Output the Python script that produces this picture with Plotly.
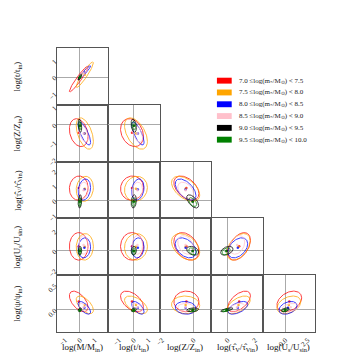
import numpy as np
import plotly.graph_objects as go

# parameters: M, t, Z, tau_V, U_s, psi
axis_titles = ["log(M/M<sub>in</sub>)", "log(t/t<sub>in</sub>)", "log(Z/Z<sub>in</sub>)",
               "log(τ̂<sub>V</sub>/τ̂<sub>Vin</sub>)", "log(U<sub>s</sub>/U<sub>sin</sub>)",
               "log(ψ/ψ<sub>in</sub>)"]
param_ranges = [[-1.53, 1.93], [-1.72, 1.77], [-2.15, 1.12], [-1.2, 2.6], [-2.5, 3.3], [-0.46, 0.7]]
param_ticks = [[-1, 0, 1], [-1, 0, 1], [-2, -1, 0, 1], [-1, 0, 1, 2], [-2, 0, 2], [0.0, 0.5]]
x_ticks = [[-1, 0, 1], [-1, 0, 1], [-2, 0], [0, 2], [0.0, 2.5]]
x_ticktext = [["−1", "0", "1"], ["−1", "0", "1"], ["−2", "0"], ["0", "2"], ["0.0", "2.5"]]
y_ticktext = [None, ["−1", "0", "1"], ["−2", "−1", "0", "1"], ["−1", "0", "1", "2"],
              ["−2", "0", "2"], ["0.0", "0.5"]]

mass_edges = [7.0, 7.5, 8.0, 8.5, 9.0, 9.5, 10.0]
bin_colors = ["#ff0000", "#ffa500", "#0000ff", "#ffc0cb", "#000000", "#008000"]

# means per bin (M, t, Z, tau_V, U_s, psi)
mean_red = [-0.08, -0.12, -0.45, 0.85, 0.45, 0.17]
mean_orange = [0.33, 0.15, -0.5, 0.8, 0.4, 0.1]
mean_blue = [0.3, 0.28, -0.5, 0.75, 0.3, 0.04]
mean_pink = [0.25, 0.25, -0.5, 0.7, 0.6, 0.05]
mean_black = [0.0, 0.0, -0.05, -0.05, 0.0, 0.0]
mean_green = [0.0, 0.0, -0.05, -0.1, -0.05, -0.01]

# 1-sigma widths per bin
sd_red = [0.63, 0.78, 0.8, 0.82, 1.4, 0.21]
sd_orange = [0.58, 0.78, 0.9, 0.85, 1.35, 0.18]
sd_blue = [0.42, 0.42, 0.66, 0.72, 1.02, 0.13]
sd_pink = [0.3, 0.35, 0.5, 0.55, 0.95, 0.08]
sd_black = [0.12, 0.18, 0.38, 0.45, 0.45, 0.04]
sd_green = [0.08, 0.12, 0.25, 0.3, 0.35, 0.03]

# correlations, lower triangle in row order: (t,M),(Z,M),(Z,t),(tau,M),(tau,t),(tau,Z),(U,M)...(psi,U)
corr_red = [0.95, -0.25, -0.25, 0.05, 0.05, -0.45, 0.0, 0.0, -0.35, 0.45, -0.55, -0.5, 0.0, 0.55, 0.35]
corr_orange = [0.93, -0.5, -0.5, 0.1, 0.1, -0.5, 0.05, 0.05, -0.4, 0.45, -0.6, -0.55, -0.05, 0.55, 0.35]
corr_blue = [0.95, -0.75, -0.75, 0.2, 0.2, -0.55, 0.1, 0.1, -0.4, 0.4, -0.65, -0.6, -0.1, 0.55, 0.35]
corr_pink = [0.9, -0.5, -0.5, 0.1, 0.1, -0.4, 0.0, 0.0, -0.3, 0.3, -0.5, -0.5, 0.0, 0.4, 0.3]
corr_black = [0.8, -0.3, -0.3, 0.2, 0.2, -0.6, 0.1, 0.1, -0.3, 0.4, 0.3, 0.3, 0.2, 0.7, 0.4]
corr_green = [0.8, -0.2, -0.2, 0.2, 0.2, -0.5, 0.1, 0.1, -0.3, 0.4, 0.3, 0.3, 0.2, 0.6, 0.4]

means = [mean_red, mean_orange, mean_blue, mean_pink, mean_black, mean_green]
sds = [sd_red, sd_orange, sd_blue, sd_pink, sd_black, sd_green]
corrs = [corr_red, corr_orange, corr_blue, corr_pink, corr_black, corr_green]

W, H = 349, 362
col_px = [(53, 105), (105, 157), (157, 209), (209, 262), (262, 314)]
row_px = [(48, 106), (106, 164), (164, 221), (221, 279), (279, 337)]
FONT = "Liberation Serif"

fig = go.Figure()
phi = np.linspace(0, 2 * np.pi, 120)
layout = {}
k = 0
for r in range(1, 6):
    for c in range(r):
        k += 1
        xa, ya = f"x{k}", f"y{k}"
        for b in range(6):
            mx, my = means[b][c], means[b][r]
            sx, sy = sds[b][c], sds[b][r]
            rho = corrs[b][k - 1]
            ex = mx + sx * np.cos(phi)
            ey = my + sy * (rho * np.cos(phi) + np.sqrt(1 - rho ** 2) * np.sin(phi))
            fig.add_trace(go.Scatter(x=ex, y=ey, mode="lines", xaxis=xa, yaxis=ya,
                                     line=dict(color=bin_colors[b], width=1), opacity=0.75,
                                     showlegend=False, hoverinfo="skip"))
            fig.add_trace(go.Scatter(x=[mx], y=[my], mode="markers", xaxis=xa, yaxis=ya,
                                     marker=dict(color=bin_colors[b], size=2.5), opacity=0.8,
                                     showlegend=False, hoverinfo="skip"))
        x0, x1 = col_px[c]
        y0, y1 = row_px[r - 1]
        common = dict(showgrid=False, zeroline=True, zerolinecolor="#aaaaaa", zerolinewidth=1,
                      showline=True, mirror=True, linecolor="#555555", linewidth=1,
                      ticks="", tickangle=-45, tickfont=dict(size=7, family=FONT, color="#222"))
        layout[f"xaxis{k}"] = dict(domain=[x0 / W, x1 / W], anchor=ya, range=param_ranges[c],
                                   tickvals=x_ticks[c], ticktext=x_ticktext[c],
                                   showticklabels=(r == 5), **common)
        layout[f"yaxis{k}"] = dict(domain=[1 - y1 / H, 1 - y0 / H], anchor=xa, range=param_ranges[r],
                                   tickvals=param_ticks[r], ticktext=y_ticktext[r],
                                   showticklabels=(c == 0), **common)

annotations = []
for c in range(5):
    x0, x1 = col_px[c]
    annotations.append(dict(text=axis_titles[c], x=(x0 + x1) / 2 / W, y=1 - 352 / H,
                            xref="paper", yref="paper", xanchor="center", yanchor="middle",
                            showarrow=False, font=dict(size=9, family=FONT, color="#111")))
for r in range(1, 6):
    y0, y1 = row_px[r - 1]
    annotations.append(dict(text=axis_titles[r], x=13 / W, y=1 - (y0 + y1) / 2 / H,
                            xref="paper", yref="paper", xanchor="center", yanchor="middle",
                            showarrow=False, textangle=-90,
                            font=dict(size=9, family=FONT, color="#111")))

shapes = []
for b in range(6):
    yc = 81 + 12 * b
    shapes.append(dict(type="rect", xref="paper", yref="paper", x0=215 / W, x1=230 / W,
                       y0=1 - (yc + 3) / H, y1=1 - (yc - 3) / H,
                       fillcolor=bin_colors[b], line=dict(width=0)))
    label = f"{mass_edges[b]:.1f} ≤log(m<sub>*</sub>/M<sub>⊙</sub>) < {mass_edges[b + 1]:.1f}"
    annotations.append(dict(text=label, x=235 / W, y=1 - yc / H, xref="paper", yref="paper",
                            xanchor="left", yanchor="middle", showarrow=False,
                            font=dict(size=7, family=FONT, color="#222")))

fig.update_layout(width=W, height=H, margin=dict(l=0, r=0, t=0, b=0),
                  paper_bgcolor="white", plot_bgcolor="white",
                  annotations=annotations, shapes=shapes, **layout)

fig.write_html("out.html", config={"displayModeBar": False},
               post_script="document.body.style.margin='0px';")
